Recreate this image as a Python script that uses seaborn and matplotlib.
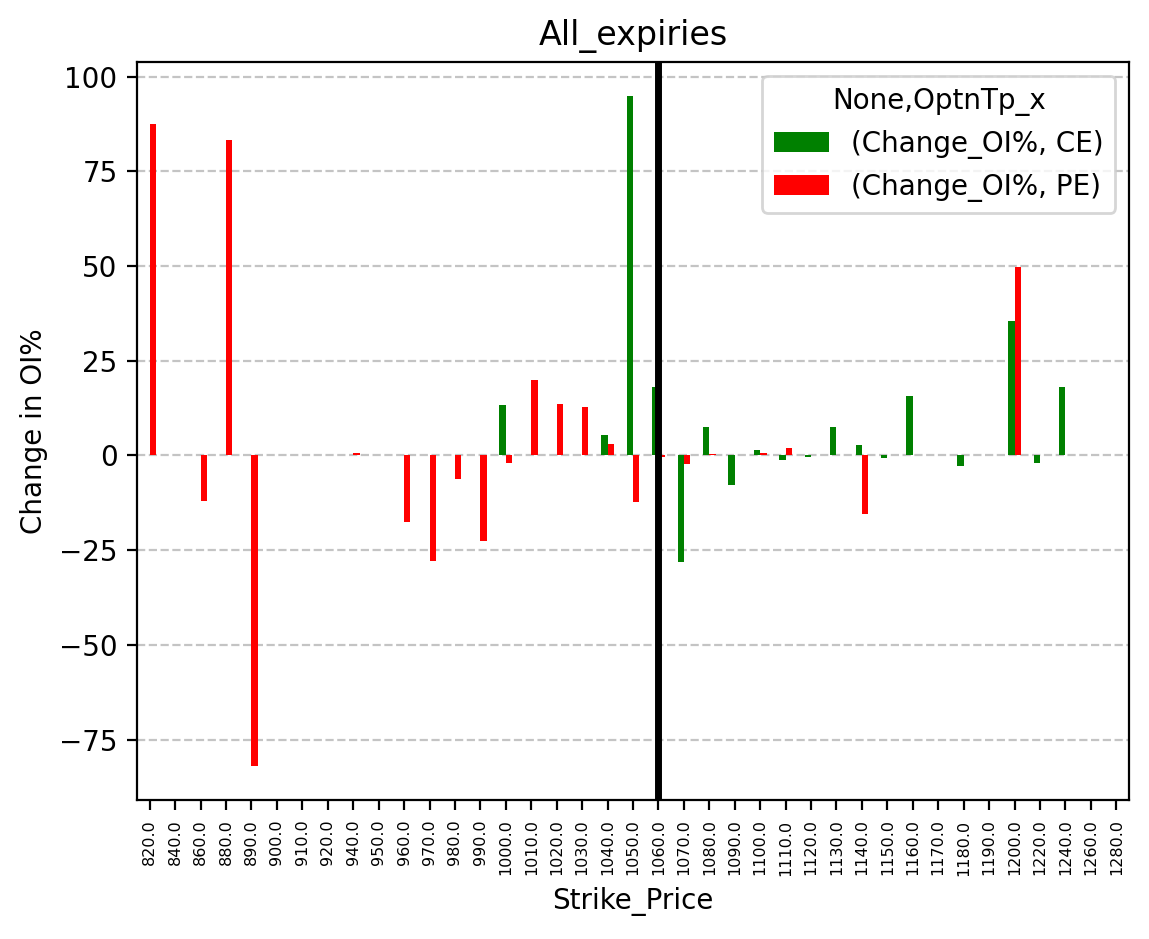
import numpy as np
import pandas as pd
import matplotlib
matplotlib.use('Agg')
import matplotlib.pyplot as plt
import seaborn as sns

nan = np.nan

strikes = [820, 840, 860, 880, 890, 900, 910, 920, 940, 950,
           960, 970, 980, 990, 1000, 1010, 1020, 1030, 1040, 1050,
           1060, 1070, 1080, 1090, 1100, 1110, 1120, 1130, 1140, 1150,
           1160, 1170, 1180, 1190, 1200, 1220, 1240, 1260, 1280]

ce_change = [nan, nan, nan, nan, nan, nan, nan, nan, nan, nan,
             nan, nan, nan, nan, 13.3, nan, nan, nan, 5.4, 95.0,
             18.0, -28.0, 7.5, -7.7, 1.5, -1.1, -0.3, 7.5, 2.8, -0.8,
             15.7, nan, -2.7, nan, 35.4, -1.9, 18.1, nan, nan]

pe_change = [87.6, nan, -12.1, 83.3, -82.1, nan, nan, nan, 0.6, nan,
             -17.5, -27.9, -6.2, -22.5, -2.0, 19.9, 13.6, 12.8, 3.0, -12.3,
             -0.5, -2.2, 0.4, nan, 0.7, 2.0, nan, nan, -15.4, nan,
             nan, nan, nan, nan, 49.8, nan, nan, nan, nan]

series_names = ['(Change_OI%, CE)', '(Change_OI%, PE)']
legend_title = 'None,OptnTp_x'
spot_strike = 1060

strike_labels = [f'{float(s):.1f}' for s in strikes]

df = pd.DataFrame({
    'Strike_Price': strike_labels * 2,
    legend_title: [series_names[0]] * len(strikes) + [series_names[1]] * len(strikes),
    'Change_OI%': ce_change + pe_change,
})

fig = plt.figure(figsize=(1149 / 200, 939 / 200), dpi=200)
ax = fig.add_axes([137 / 1149, 1 - 800 / 939, 992 / 1149, 738 / 939])

sns.barplot(data=df, x='Strike_Price', y='Change_OI%', hue=legend_title,
            order=strike_labels, hue_order=series_names,
            palette=['green', 'red'], width=0.5, errorbar=None,
            saturation=1, ax=ax)

ax.axvline(strike_labels.index(f'{float(spot_strike):.1f}'), color='black', lw=2.5)

ax.set_axisbelow(True)
ax.grid(axis='y', linestyle='--', color='#c4c4c4', lw=0.8)
ax.set_xlim(-0.5, len(strikes) - 0.5)

ax.tick_params(axis='x', labelrotation=90, labelsize='xx-small')
ax.set_title('All_expiries')
ax.set_xlabel('Strike_Price')
ax.set_ylabel('Change in OI%')
ax.legend(title=legend_title, loc='upper right')

fig.savefig('out.png', dpi=200)
